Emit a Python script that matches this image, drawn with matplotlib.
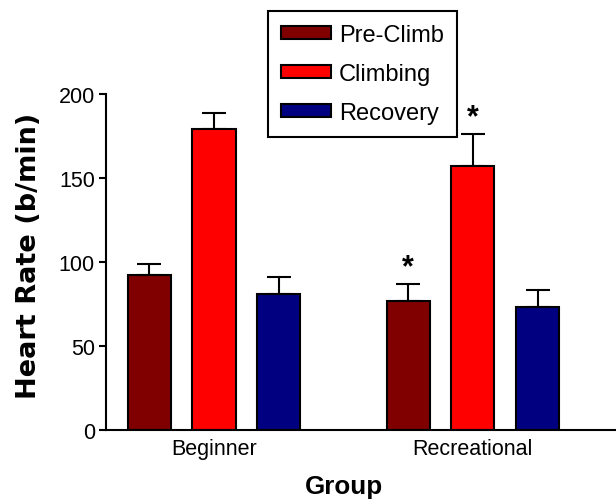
import matplotlib
matplotlib.use('Agg')
import matplotlib.pyplot as plt
import numpy as np

plt.rcParams['font.family'] = ['Liberation Sans', 'DejaVu Sans']

groups = ['Beginner', 'Recreational']
phases = ['Pre-Climb', 'Climbing', 'Recovery']
colors = ['#800000', '#ff0000', '#000080']

# mean heart rate (b/min) per phase, one value per group
pre_climb = [92, 77]
climbing = [179, 157]
recovery = [81, 73]

# upper error (SD)
pre_climb_err = [7, 9.7]
climbing_err = [9.5, 19]
recovery_err = [10, 10.5]

# significance marks: (group index, phase index)
stars = [(1, 0), (1, 1)]

means = [pre_climb, climbing, recovery]
errs = [pre_climb_err, climbing_err, recovery_err]

fig = plt.figure(figsize=(6.16, 5.02), dpi=100)
ax = fig.add_axes([106 / 616, 71 / 502, 510 / 616, 336 / 502])

group_pos = np.array([1.0, 5.0])
width = 0.665

for i, (name, m, e, c) in enumerate(zip(phases, means, errs, colors)):
    x = group_pos + (i - 1)
    ax.bar(x, m, width, color=c, edgecolor='black', linewidth=1.5, label=name, zorder=2)
    ax.errorbar(x, m, yerr=[np.zeros(len(e)), e], fmt='none', ecolor='black',
                elinewidth=1.5, capsize=8.3, capthick=1.5, zorder=1)

for g, p in stars:
    ax.annotate('*', xy=(group_pos[g] + p - 1, means[p][g] + errs[p][g]),
                xytext=(0, 1.5), textcoords='offset points', ha='center', va='bottom',
                fontsize=22, fontweight='bold')

ax.set_xlim(-0.668, 7.21)
ax.set_ylim(0, 200)
ax.set_yticks([0, 50, 100, 150, 200])
ax.set_xticks(group_pos)
ax.set_xticklabels(groups)

for s in ['top', 'right']:
    ax.spines[s].set_visible(False)
for s in ['left', 'bottom']:
    ax.spines[s].set_linewidth(1.5)

ax.tick_params(axis='y', length=5, width=1.5, pad=3, labelsize=15.5)
ax.tick_params(axis='x', length=0, pad=6, labelsize=15.5)

ax.set_xlabel('Group', fontsize=18.7, fontweight='bold')
ax.xaxis.set_label_coords(0.467, -0.132)
ax.set_ylabel('Heart Rate (b/min)', fontsize=19.5, fontweight='bold', family='DejaVu Sans')
ax.yaxis.set_label_coords(-0.125, 0.52)

leg = ax.legend(loc='upper left', bbox_to_anchor=(268 / 616, 1 - 11.7 / 502),
                bbox_transform=fig.transFigure, borderaxespad=0, fontsize=17,
                handlelength=2.1, handleheight=0.5, handletextpad=0.35,
                labelspacing=0.72, borderpad=0.55, fancybox=False, framealpha=1)
leg.get_frame().set_edgecolor('black')
leg.get_frame().set_linewidth(1.5)

fig.savefig('out.png', dpi=100)
